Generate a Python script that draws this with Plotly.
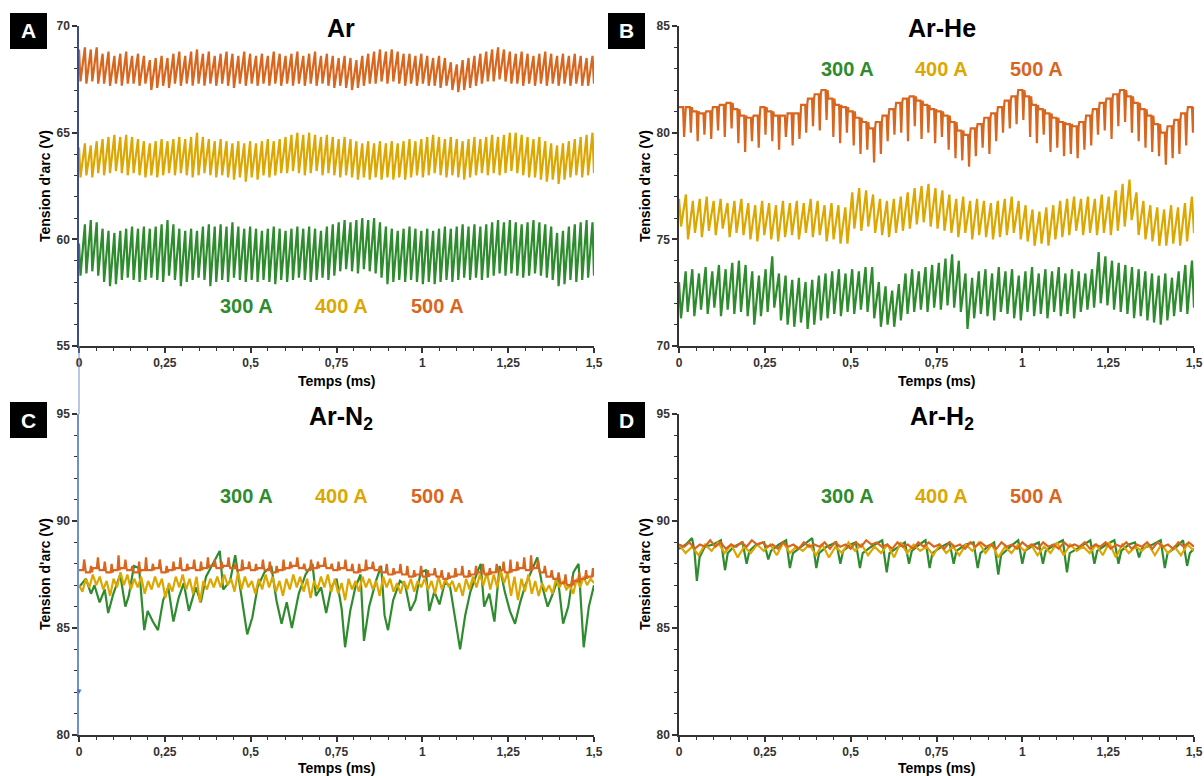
import plotly.graph_objects as go

# ---------------- data ----------------
x_tick_vals = [0, 0.25, 0.5, 0.75, 1, 1.25, 1.5]
x_tick_text = ["0", "0,25", "0,5", "0,75", "1", "1,25", "1,5"]
currents = ["300 A", "400 A", "500 A"]
panel_letters = ["A", "B", "C", "D"]
panel_titles = ["Ar", "Ar-He", "Ar-N<sub>2</sub>", "Ar-H<sub>2</sub>"]
y_ticks_A = [55, 60, 65, 70]
y_ticks_B = [70, 75, 80, 85]
y_ticks_C = [80, 85, 90, 95]
y_ticks_D = [80, 85, 90, 95]

# Panel A (Ar) – per-cycle maxima / minima
ar_500_peaks = [68.9, 69.0, 68.9, 69.0,
    68.7, 68.8, 68.6, 68.7, 68.8, 68.6, 68.7, 68.6,
    68.4, 68.5, 68.6, 68.5,
    68.7, 68.8, 68.6, 68.8, 68.9, 68.7, 68.8, 68.6, 68.7, 68.8, 68.7, 68.6, 68.8, 68.7, 68.6,
    68.7, 68.6, 68.8, 68.7, 68.6, 68.7, 68.8, 68.6, 68.7, 68.8, 68.6, 68.7, 68.6, 68.5, 68.6, 68.5,
    68.4, 68.6, 68.7, 68.8, 68.9, 68.8, 68.9, 68.8, 68.7,
    68.7, 68.6, 68.7, 68.6, 68.5, 68.6, 68.5,
    68.3, 68.2, 68.4, 68.5,
    68.6, 68.7, 68.8, 68.9, 69.0, 68.9, 68.8,
    68.7, 68.8, 68.7, 68.6, 68.7, 68.8, 68.7, 68.6, 68.7, 68.6, 68.7, 68.6, 68.5, 68.6]
ar_500_troughs = [67.4, 67.3, 67.4, 67.3,
    67.3, 67.2, 67.3, 67.2, 67.3, 67.3, 67.2, 67.3,
    67.0, 67.1, 67.2, 67.1,
    67.3, 67.2, 67.3, 67.2, 67.3, 67.2, 67.3, 67.2, 67.3, 67.2, 67.1, 67.3, 67.2, 67.3, 67.2,
    67.3, 67.2, 67.3, 67.2, 67.3, 67.2, 67.3, 67.2, 67.3, 67.2, 67.3, 67.2, 67.1, 67.2, 67.1, 67.0,
    67.1, 67.2, 67.3, 67.3, 67.4, 67.3, 67.4, 67.3, 67.2,
    67.3, 67.2, 67.3, 67.2, 67.2, 67.1, 67.2,
    67.0, 66.9, 67.0, 67.1,
    67.2, 67.3, 67.4, 67.4, 67.5, 67.4, 67.3,
    67.3, 67.2, 67.3, 67.2, 67.3, 67.2, 67.3, 67.2, 67.3, 67.2, 67.3, 67.2, 67.2, 67.3]
ar_400_peaks = [64.3, 64.5, 64.4, 64.6,
    64.7, 64.8, 64.9, 64.8, 64.9, 64.8, 64.7, 64.6,
    64.5, 64.6, 64.7, 64.6, 64.7, 64.8, 64.7, 64.8,
    65.0, 64.8, 64.7, 64.6, 64.7, 64.6, 64.5, 64.6,
    64.5, 64.6, 64.5, 64.6, 64.7, 64.6, 64.7,
    64.8, 64.9, 65.0, 64.9, 65.0, 64.9, 64.8, 64.9, 64.8, 64.7, 64.8, 64.7,
    64.6, 64.5, 64.6, 64.5, 64.6, 64.5, 64.6, 64.5, 64.6, 64.7, 64.6, 64.7,
    64.8, 64.9, 64.8, 64.7, 64.8, 64.7, 64.6,
    64.7, 64.8, 64.7, 64.8, 64.9, 64.8, 64.9, 65.0, 65.0, 64.9, 64.8,
    64.7, 64.8, 64.6, 64.5, 64.4, 64.5, 64.6, 64.7, 64.8, 64.9, 65.0]
ar_400_troughs = [62.9, 63.0, 62.9, 63.1,
    63.0, 63.1, 63.2, 63.1, 63.0, 63.1, 63.0, 62.9,
    63.0, 62.9, 63.0, 63.1, 63.0, 63.1, 63.0, 62.9,
    63.0, 63.1, 63.0, 62.9, 63.0, 62.9, 62.8, 62.9,
    62.7, 62.9, 62.8, 63.0, 62.9, 63.0, 63.1,
    63.1, 63.2, 63.1, 63.0, 63.1, 63.2, 63.0, 63.1, 63.0, 62.9, 63.0, 62.9,
    62.8, 62.9, 62.8, 62.9, 62.8, 62.9, 62.8, 62.9, 62.8, 62.9, 63.0, 62.9,
    63.0, 63.1, 63.0, 62.9, 63.0, 62.9, 62.8,
    62.9, 63.0, 63.1, 63.0, 63.1, 63.0, 63.1, 63.2, 63.1, 63.0, 62.9,
    62.9, 62.8, 62.7, 62.8, 62.6, 62.8, 62.9, 63.0, 62.9, 63.0, 63.1]
ar_300_peaks = [59.8, 60.7, 60.9, 60.8,
    60.5, 60.4, 60.3,
    60.4, 60.5, 60.6, 60.5, 60.6, 60.5, 60.6, 60.7,
    60.9, 60.7, 60.5,
    60.4, 60.5, 60.4, 60.6, 60.7, 60.6, 60.7, 60.6, 60.8,
    60.6, 60.5, 60.6, 60.5, 60.4, 60.5, 60.6, 60.5, 60.4, 60.5, 60.6,
    60.5, 60.6, 60.5, 60.4, 60.6, 60.7,
    60.8, 60.9, 60.8, 60.9, 61.0, 60.9, 61.0, 60.8,
    60.6, 60.5, 60.4, 60.5, 60.6, 60.5, 60.4, 60.5,
    60.4, 60.5, 60.6, 60.5, 60.6, 60.7, 60.6, 60.7, 60.6, 60.7,
    60.8, 60.9, 60.8, 60.9, 60.8, 60.7, 60.8, 60.9, 60.8, 60.7, 60.6,
    60.3, 60.4, 60.6, 60.7, 60.8, 60.9, 60.8]
ar_300_troughs = [58.3, 58.4, 58.5, 58.3,
    58.0, 57.8, 57.9,
    58.1, 58.2, 58.1, 58.0, 58.1, 58.2, 58.1, 58.0,
    58.3, 58.1, 57.8,
    58.0, 58.1, 58.2, 58.1, 57.8, 58.0, 58.1, 58.0, 58.2,
    58.1, 58.0, 58.1, 58.0, 58.1, 58.0, 57.9, 58.1, 58.0, 58.1, 58.2,
    58.1, 58.0, 58.1, 58.2, 58.1, 58.3,
    58.5, 58.6, 58.5, 58.4, 58.6, 58.5, 58.4, 58.2,
    57.9, 58.0, 58.1, 58.0, 58.1, 58.0, 57.9, 58.0,
    57.9, 58.0, 58.1, 58.0, 58.1, 58.2, 58.1, 58.2, 58.1, 58.2,
    58.3, 58.4, 58.3, 58.4, 58.3, 58.2, 58.3, 58.4, 58.3, 58.2, 58.1,
    57.8, 57.9, 58.1, 58.0, 58.1, 58.2, 58.3]

# Panel B (Ar-He)
arhe_500_base = [81.2, 81.2, 81.0, 80.9, 81.0, 81.2, 81.3,
    81.4, 81.1,
    80.8, 80.7, 80.8,
    81.2, 81.0,
    80.8, 80.8, 80.9, 80.9,
    81.3, 81.6, 81.8,
    82.0,
    81.6, 81.3, 81.2, 81.0, 80.7, 80.5,
    80.2,
    80.5, 80.8, 81.1,
    81.4, 81.6, 81.7, 81.5,
    81.3, 81.1, 81.0, 80.8, 80.5, 80.1,
    79.9,
    80.2, 80.4, 80.7, 80.9, 81.2, 81.5, 81.7,
    82.0,
    81.7, 81.3, 81.1, 80.9, 80.7,
    80.5, 80.4, 80.3, 80.5,
    80.8, 81.1, 81.4, 81.6, 81.8, 82.0,
    81.7, 81.4, 81.1, 80.8, 80.4,
    80.0,
    80.3, 80.6, 80.9, 81.2]
arhe_500_spikes = [79.8, 80.0, 79.6, 79.9, 79.7, 80.1, 79.8,
    80.2, 79.5,
    79.1, 79.6, 79.3,
    79.9, 79.6,
    79.2, 79.8, 79.4, 79.7,
    80.0, 80.3, 80.1,
    80.6,
    79.8, 79.5, 80.0, 79.4, 79.0, 79.2,
    78.6,
    79.0, 79.6, 79.9,
    80.0, 79.6, 80.3, 79.7,
    80.0, 79.5, 79.8, 79.2, 78.8, 78.7,
    78.4,
    78.9, 79.3, 79.0, 79.6, 80.0, 80.2, 80.4,
    80.6,
    79.8, 79.5, 79.9, 79.1, 79.3,
    78.9, 79.0, 78.8, 79.2,
    79.4, 79.9, 80.1, 79.7, 80.3, 80.5,
    80.0, 79.6, 79.3, 79.1, 78.9,
    78.5,
    78.8, 79.0, 79.4, 80.0]
arhe_400_peaks = [76.9, 77.1, 76.8, 76.9, 77.0, 76.8, 76.9, 76.7,
    76.8, 76.9, 76.7, 76.6, 76.8, 76.7, 76.6, 76.8,
    76.7, 76.8, 76.7, 76.9, 76.8, 76.6, 76.7, 76.6, 76.5,
    77.2, 77.4, 77.3, 77.1, 76.9,
    76.8, 76.9, 77.0, 77.2, 77.4, 77.5,
    77.6, 77.4, 77.3,
    77.1, 76.9, 77.0, 76.8, 76.9, 76.8, 76.7,
    76.8, 76.9, 77.0, 76.8, 76.6,
    76.4, 76.3, 76.5, 76.6, 76.8,
    76.9, 77.0, 76.9, 77.0, 76.9,
    77.1, 77.0, 77.3, 77.6,
    77.8,
    77.2, 76.8, 76.6, 76.5,
    76.4, 76.6, 76.5, 76.7, 77.0]
arhe_400_troughs = [75.6, 75.0, 75.3, 75.1, 75.4, 75.2, 75.5, 75.1,
    75.3, 75.2, 75.0, 74.9, 75.2, 75.0, 74.9, 75.1,
    75.2, 75.0, 75.3, 75.1, 75.2, 74.9, 75.0, 74.8, 74.8,
    75.5, 75.4, 75.6, 75.3, 75.2,
    75.1, 75.3, 75.4, 75.5, 75.7, 75.8,
    75.6, 75.5, 75.4,
    75.3, 75.1, 75.3, 75.0, 75.2, 75.1, 75.0,
    75.1, 75.2, 75.3, 75.0, 74.9,
    74.7, 74.8, 74.7, 75.0, 75.1,
    75.2, 75.4, 75.2, 75.3, 75.2,
    75.3, 75.2, 75.4, 75.6,
    75.9,
    75.2, 75.0, 74.9, 74.7,
    74.7, 74.8, 74.7, 74.9, 75.3]
arhe_300_peaks = [73.0, 73.5, 73.6, 73.4, 73.7, 73.5, 73.8, 73.6, 73.9, 74.0, 73.8,
    73.5,
    73.3, 73.6,
    74.2,
    73.4, 73.3, 73.1, 73.2, 73.0, 73.1, 73.3, 73.4,
    73.5, 73.6, 73.4, 73.6, 73.5, 73.7, 73.7,
    73.0, 72.8, 72.6, 72.9,
    73.4, 73.6, 73.5, 73.7, 73.8, 73.9, 74.1, 74.3, 74.0,
    73.4,
    73.2, 73.5, 73.6, 73.4, 73.7, 73.5, 73.6, 73.3, 73.5, 73.7, 73.4, 73.6, 73.5, 73.7, 73.4, 73.6, 73.5, 73.4, 73.6,
    74.4,
    74.2, 74.0, 73.9, 73.8, 73.7, 73.6, 73.5, 73.4, 73.3, 73.4,
    73.2, 73.5, 73.8, 74.0]
arhe_300_troughs = [71.3, 71.6, 71.4, 71.7, 71.5, 71.8, 71.4, 71.7, 71.5, 71.6, 71.4,
    71.0,
    71.4, 71.6,
    71.8,
    71.2, 71.0, 70.9, 71.1, 70.8, 71.0, 71.2, 71.3,
    71.5, 71.4, 71.6, 71.5, 71.7, 71.6, 71.3,
    70.9, 71.0, 70.9, 71.2,
    71.5, 71.6, 71.7, 71.6, 71.8, 71.7, 71.9, 71.8, 71.6,
    70.8,
    71.3, 71.5, 71.4, 71.2, 71.6, 71.5, 71.3, 71.2, 71.6, 71.4, 71.5, 71.3, 71.6, 71.4, 71.5, 71.3, 71.6, 71.7, 71.8,
    72.0,
    71.9, 71.7, 71.6, 71.5, 71.3, 71.4, 71.2, 71.1, 71.0, 71.2,
    71.4, 71.6, 71.5, 71.8]

# Panel C (Ar-N2)
arn2_500_base = [87.7, 87.6, 87.8, 87.7, 87.6, 87.7, 87.8, 87.7, 87.6, 87.7,
    87.7, 87.8, 87.6, 87.7, 87.8, 87.7, 87.8, 87.7, 87.8, 87.9,
    87.8, 87.9, 87.8, 87.7, 87.8, 87.7, 87.8, 87.7, 87.6, 87.7,
    87.8, 87.9, 87.8, 87.7, 87.8, 87.9, 87.8, 87.7, 87.8, 87.7,
    87.6, 87.7, 87.8, 87.7, 87.6, 87.5, 87.6, 87.5, 87.4, 87.5,
    87.4, 87.5, 87.4, 87.3, 87.4, 87.5, 87.4, 87.5, 87.6, 87.5,
    87.6, 87.7, 87.6, 87.7, 87.8, 87.7, 87.8, 87.6, 87.4, 87.3,
    87.1, 87.0, 87.2, 87.3, 87.4]
arn2_500_spikes = [88.2, 87.9, 88.3, 88.1, 88.0, 88.4, 88.2, 87.9, 88.1, 88.3,
    88.0, 88.2, 87.9, 88.1, 88.3, 88.0, 88.2, 88.1, 88.3, 88.2,
    88.1, 88.3, 88.0, 88.2, 88.1, 88.0, 88.2, 88.1, 87.9, 88.2,
    88.1, 88.3, 88.0, 88.2, 88.1, 88.3, 88.0, 88.1, 88.2, 88.0,
    88.0, 88.2, 88.1, 87.9, 88.0, 87.8, 88.0, 87.9, 87.7, 87.9,
    87.7, 87.8, 87.7, 87.6, 87.8, 87.9, 87.7, 87.9, 88.0, 87.8,
    88.0, 88.1, 88.2, 88.1, 88.3, 88.4, 88.2, 87.9, 87.7, 87.6,
    87.5, 87.4, 87.6, 87.7, 87.8]
arn2_400_peaks = [87.0, 87.3, 87.5, 87.4, 87.2, 87.3, 87.6, 87.5, 87.3, 87.4,
    87.2, 87.4, 87.3, 87.1, 87.4, 87.5, 87.3, 87.4, 87.2, 87.3,
    87.4, 87.5, 87.3, 87.6, 87.4, 87.2, 87.3, 87.5, 87.4, 87.2,
    87.3, 87.5, 87.4, 87.3, 87.2, 87.4, 87.5, 87.3, 87.1, 87.3,
    87.2, 87.4, 87.3, 87.2, 87.4, 87.3, 87.1, 87.2, 87.3, 87.2,
    87.3, 87.2, 87.4, 87.3, 87.2, 87.1, 87.3, 87.4, 87.5, 87.6,
    87.5, 87.7, 87.6, 87.4, 87.3, 87.5, 87.2, 87.1, 87.0, 87.3,
    87.2, 87.0, 87.3, 87.4, 87.3]
arn2_400_troughs = [86.7, 86.9, 87.0, 86.8, 86.5, 86.9, 87.0, 86.8, 86.9, 86.6,
    86.8, 86.9, 86.4, 86.7, 86.9, 86.8, 86.6, 86.2, 86.8, 86.9,
    86.9, 87.0, 86.7, 86.8, 86.9, 86.6, 86.8, 86.9, 86.7, 86.5,
    86.8, 86.9, 86.7, 86.4, 86.8, 86.9, 86.7, 86.6, 86.3, 86.8,
    86.7, 86.9, 86.8, 86.5, 86.9, 86.7, 86.6, 86.8, 86.7, 86.9,
    86.8, 86.6, 86.8, 86.9, 86.7, 86.5, 86.8, 86.9, 87.0, 86.8,
    86.9, 87.1, 86.5, 86.3, 86.7, 86.6, 86.5, 86.7, 86.6, 86.9,
    86.8, 86.6, 86.9, 87.0, 87.1]
arn2_300_t = [0.00, 0.02, 0.035, 0.045, 0.06, 0.075, 0.085, 0.10, 0.12, 0.135,
    0.145, 0.16, 0.175, 0.19, 0.20, 0.215, 0.23, 0.245, 0.26, 0.275,
    0.29, 0.305, 0.32, 0.34, 0.355, 0.37, 0.39, 0.41, 0.42, 0.44,
    0.455, 0.47, 0.49, 0.505, 0.52, 0.54, 0.56, 0.575, 0.59, 0.605,
    0.62, 0.64, 0.66, 0.68, 0.69, 0.705, 0.72, 0.735, 0.75, 0.765,
    0.775, 0.79, 0.805, 0.82, 0.83, 0.845, 0.865, 0.88, 0.89, 0.90,
    0.915, 0.935, 0.95, 0.965, 0.98, 0.995, 1.01, 1.02, 1.035, 1.05,
    1.065, 1.08, 1.095, 1.11, 1.125, 1.14, 1.16, 1.17, 1.18, 1.195,
    1.21, 1.225, 1.24, 1.255, 1.27, 1.285, 1.30, 1.32, 1.335, 1.35,
    1.365, 1.38, 1.395, 1.41, 1.425, 1.44, 1.455, 1.47, 1.485, 1.50]
arn2_300_v = [86.9, 87.3, 86.6, 87.0, 86.2, 86.8, 85.7, 86.6, 87.5, 86.0,
    86.5, 87.9, 87.8, 84.9, 85.8, 85.3, 84.9, 86.3, 86.9, 85.3,
    86.4, 87.1, 85.8, 86.9, 86.2, 87.4, 88.0, 88.6, 86.8, 87.2,
    88.4, 86.9, 84.7, 85.5, 86.9, 87.6, 87.9, 86.3, 85.2, 86.2,
    85.0, 86.6, 87.5, 88.0, 86.5, 86.9, 85.7, 86.9, 87.3, 85.9,
    84.1, 85.8, 86.9, 87.5, 84.4, 86.0, 87.2, 87.9, 85.6, 84.9,
    86.3, 87.2, 87.0, 85.8, 86.3, 87.6, 87.7, 85.8, 86.7, 86.1,
    87.1, 87.0, 85.4, 84.0, 85.6, 86.7, 87.6, 88.0, 86.0, 86.6,
    85.3, 87.9, 86.7, 85.8, 85.2, 86.2, 87.0, 87.7, 88.3, 86.9,
    86.0, 86.6, 87.3, 85.2, 86.0, 87.6, 88.0, 84.1, 86.0, 87.0]

# Panel D (Ar-H2)
arh2_500_peaks = [88.9, 89.0, 88.9, 89.1, 89.0, 88.9, 89.0, 89.1, 89.0, 88.9,
    89.0, 88.9, 89.0, 88.9, 89.0, 89.0, 88.9, 89.0, 89.1, 89.0,
    88.9, 89.0, 88.9, 89.0, 89.0, 88.9, 89.0, 88.9, 89.0, 89.0,
    88.9, 89.0, 88.9, 89.0, 88.9, 89.0, 88.9, 89.0, 88.9, 89.0,
    88.9, 89.0, 88.9, 89.0, 88.9, 89.0, 89.0, 88.9, 89.0, 89.0]
arh2_500_troughs = [88.8, 88.7, 88.8, 88.8, 88.7, 88.8, 88.8, 88.9, 88.8, 88.7,
    88.8, 88.7, 88.8, 88.8, 88.7, 88.8, 88.7, 88.8, 88.9, 88.8,
    88.7, 88.8, 88.7, 88.8, 88.8, 88.7, 88.8, 88.7, 88.8, 88.8,
    88.7, 88.8, 88.7, 88.8, 88.7, 88.8, 88.7, 88.8, 88.8, 88.7,
    88.8, 88.7, 88.8, 88.7, 88.8, 88.7, 88.8, 88.7, 88.8, 88.8]
arh2_400_peaks = [88.9, 88.8, 88.9, 89.0, 88.9, 88.8, 88.9, 88.9, 89.0, 88.8,
    88.9, 88.9, 88.8, 89.0, 88.9, 88.8, 88.9, 89.0, 88.9, 88.8,
    88.9, 88.8, 88.9, 89.0, 88.9, 88.8, 88.9, 88.9, 88.8, 89.0,
    88.9, 88.8, 88.9, 89.0, 88.9, 88.8, 88.9, 88.9, 88.8, 88.9]
arh2_400_troughs = [88.5, 88.4, 88.6, 88.5, 88.3, 88.5, 88.6, 88.4, 88.5, 88.6,
    88.4, 88.3, 88.5, 88.6, 88.4, 88.5, 88.3, 88.5, 88.6, 88.4,
    88.5, 88.4, 88.6, 88.5, 88.3, 88.5, 88.6, 88.4, 88.5, 88.4,
    88.6, 88.5, 88.4, 88.3, 88.5, 88.6, 88.4, 88.5, 88.4, 88.6]
arh2_300_t = [0.0, 0.02, 0.038, 0.045, 0.052, 0.06, 0.075, 0.10, 0.122, 0.134,
    0.142, 0.16, 0.185, 0.197, 0.205, 0.225, 0.248, 0.26, 0.268, 0.29,
    0.312, 0.323, 0.332, 0.355, 0.388, 0.40, 0.408, 0.43, 0.458, 0.47,
    0.478, 0.50, 0.515, 0.527, 0.535, 0.56, 0.592, 0.605, 0.613, 0.64,
    0.658, 0.67, 0.678, 0.70, 0.718, 0.73, 0.738, 0.765, 0.788, 0.80,
    0.808, 0.835, 0.858, 0.87, 0.878, 0.90, 0.918, 0.93, 0.938, 0.965,
    0.988, 1.0, 1.008, 1.035, 1.048, 1.06, 1.068, 1.095, 1.118, 1.13,
    1.138, 1.17, 1.198, 1.21, 1.218, 1.245, 1.268, 1.28, 1.288, 1.31,
    1.328, 1.34, 1.348, 1.38, 1.403, 1.415, 1.423, 1.45, 1.468, 1.48,
    1.488, 1.50]
arh2_300_v = [88.7, 88.9, 89.2, 88.6, 87.2, 88.3, 88.8, 88.9, 89.1, 87.7,
    88.5, 88.8, 89.0, 88.0, 88.6, 88.9, 89.0, 88.2, 88.6, 88.9,
    89.1, 87.8, 88.5, 88.8, 89.2, 87.8, 88.5, 88.8, 89.0, 88.0,
    88.6, 88.9, 89.0, 87.8, 88.5, 88.8, 89.1, 87.6, 88.5, 88.8,
    89.0, 88.0, 88.6, 88.9, 89.1, 87.8, 88.5, 88.8, 89.0, 88.0,
    88.6, 88.9, 89.0, 87.8, 88.5, 88.8, 89.0, 87.5, 88.4, 88.8,
    89.1, 88.0, 88.6, 88.9, 89.0, 88.0, 88.6, 88.9, 89.1, 87.6,
    88.5, 88.8, 89.1, 88.0, 88.6, 88.9, 89.1, 88.0, 88.6, 88.9,
    89.0, 88.3, 88.7, 88.9, 89.1, 87.8, 88.5, 88.8, 89.1, 87.9,
    88.5, 88.7]

# ---------------- styling ----------------
GREEN = "#2e8b2e"
YELLOW = "#dca700"
ORANGE = "#d8661f"
AXIS = "#333333"
FONT = "Liberation Sans, Arial, sans-serif"
W, H = 1204, 776


def px(x):
    return x / W


def py(y):
    return 1 - y / H


def saw(peaks, troughs, f=0.25, t_end=1.5):
    n = min(len(peaks), len(troughs))
    T = t_end / (n - 1 + f)
    xs, ys = [], []
    for k in range(n):
        xs += [k * T, k * T + f * T]
        ys += [peaks[k], troughs[k]]
    return xs, ys


def spiky(base, spikes, t_end=1.5):
    n = min(len(base), len(spikes))
    T = t_end / (n - 0.1)
    xs, ys = [], []
    for k in range(n):
        xs += [k * T, k * T + 0.6 * T, k * T + 0.75 * T, k * T + 0.9 * T]
        ys += [base[k], base[k], spikes[k], base[k]]
    return xs, ys


fig = go.Figure()


def add(xs, ys, color, ax, width=2.2):
    fig.add_trace(go.Scatter(x=xs, y=ys, mode="lines",
                             line=dict(color=color, width=width),
                             xaxis="x" + ax, yaxis="y" + ax,
                             showlegend=False, hoverinfo="skip"))


# Panel A
add(*saw(ar_300_peaks, ar_300_troughs, 0.25), GREEN, "")
add(*saw(ar_400_peaks, ar_400_troughs, 0.25), YELLOW, "")
add(*saw(ar_500_peaks, ar_500_troughs, 0.25), ORANGE, "")
# Panel B
add(*saw(arhe_300_peaks, arhe_300_troughs, 0.3), GREEN, "2")
add(*saw(arhe_400_peaks, arhe_400_troughs, 0.3), YELLOW, "2")
add(*spiky(arhe_500_base, arhe_500_spikes), ORANGE, "2")
# Panel C
add(arn2_300_t, arn2_300_v, GREEN, "3")
add(*saw(arn2_400_peaks, arn2_400_troughs, 0.5), YELLOW, "3")
add(*spiky(arn2_500_base, arn2_500_spikes), ORANGE, "3")
# Panel D
add(arh2_300_t, arh2_300_v, GREEN, "4")
add(*saw(arh2_400_peaks, arh2_400_troughs, 0.5), YELLOW, "4")
add(*saw(arh2_500_peaks, arh2_500_troughs, 0.5), ORANGE, "4")

tickfont = dict(family=FONT, size=12, color=AXIS, weight="bold")


def xaxis(domain, anchor):
    return dict(domain=domain, anchor=anchor, range=[0, 1.5], automargin=False,
                showline=True, linecolor=AXIS, linewidth=1.5,
                showgrid=False, zeroline=False,
                tickmode="array", tickvals=x_tick_vals, ticktext=x_tick_text,
                ticks="outside", ticklen=5, tickwidth=1.5, tickcolor=AXIS,
                minor=dict(ticks="outside", ticklen=3, tickwidth=1, tickcolor=AXIS,
                           dtick=0.05, tick0=0, showgrid=False),
                tickfont=tickfont, fixedrange=True)


def yaxis(domain, anchor, ticks, linecolor=AXIS):
    return dict(domain=domain, anchor=anchor, range=[ticks[0], ticks[-1]], automargin=False,
                showline=True, linecolor=linecolor, linewidth=1.5,
                showgrid=False, zeroline=False,
                tickmode="array", tickvals=ticks, ticktext=[str(t) for t in ticks],
                ticks="outside", ticklen=5, tickwidth=1.5, tickcolor=AXIS,
                minor=dict(ticks="outside", ticklen=3, tickwidth=1, tickcolor=AXIS,
                           dtick=1, tick0=ticks[0], showgrid=False),
                tickfont=tickfont, fixedrange=True)


xd_left = [px(79), px(594)]
xd_right = [px(679), px(1194)]
yd_top = [py(346), py(26)]
yd_bot = [py(735), py(414)]

fig.update_layout(
    width=W, height=H,
    margin=dict(l=0, r=0, t=0, b=0, pad=0, autoexpand=False),
    paper_bgcolor="white", plot_bgcolor="white",
    showlegend=False,
    xaxis=xaxis(xd_left, "y"),
    yaxis=yaxis(yd_top, "x", y_ticks_A, linecolor="#3a4c8c"),
    xaxis2=xaxis(xd_right, "y2"),
    yaxis2=yaxis(yd_top, "x2", y_ticks_B),
    xaxis3=xaxis(xd_left, "y3"),
    yaxis3=yaxis(yd_bot, "x3", y_ticks_C, linecolor="#6f8fcf"),
    xaxis4=xaxis(xd_right, "y4"),
    yaxis4=yaxis(yd_bot, "x4", y_ticks_D),
)

annotations = []
shapes = []
# thin blue artefact line joining panel A and C y-axes
shapes.append(dict(type="line", xref="paper", yref="paper",
                   x0=px(79), x1=px(79), y0=py(346), y1=py(414),
                   line=dict(color="#6f8fcf", width=1)))
annotations.append(dict(xref="paper", yref="paper", x=px(79), y=py(690),
                        text="▼", showarrow=False, font=dict(size=8, color="#4a72c4"),
                        xanchor="center", yanchor="middle"))

letter_pos = [(10, 13), (608, 13), (10, 402), (608, 402)]
title_pos = [(341, 28), (942, 28), (341, 418), (942, 418)]
label_y = [306, 69, 496, 496]
label_x = [[246, 341, 437], [847, 941, 1036], [246, 341, 437], [847, 941, 1036]]
ytitle_pos = [(45, 186), (645, 186), (45, 574), (645, 574)]
xtitle_pos = [(337, 381), (937, 381), (337, 768), (937, 768)]
colors = [GREEN, YELLOW, ORANGE]

for i in range(4):
    lx, ly = letter_pos[i]
    shapes.append(dict(type="rect", xref="paper", yref="paper",
                       x0=px(lx), x1=px(lx + 37), y0=py(ly + 36), y1=py(ly),
                       fillcolor="black", line=dict(width=0)))
    annotations.append(dict(xref="paper", yref="paper", x=px(lx + 18.5), y=py(ly + 18),
                            text=panel_letters[i], showarrow=False,
                            font=dict(family=FONT, size=21, color="white", weight="bold"),
                            xanchor="center", yanchor="middle"))
    tx, ty = title_pos[i]
    annotations.append(dict(xref="paper", yref="paper", x=px(tx), y=py(ty),
                            text=panel_titles[i], showarrow=False,
                            font=dict(family=FONT, size=25, color="black", weight="bold"),
                            xanchor="center", yanchor="middle"))
    for j in range(3):
        annotations.append(dict(xref="paper", yref="paper", x=px(label_x[i][j]), y=py(label_y[i]),
                                text=currents[j], showarrow=False,
                                font=dict(family=FONT, size=20, color=colors[j], weight="bold"),
                                xanchor="center", yanchor="middle"))
    yx, yy = ytitle_pos[i]
    annotations.append(dict(xref="paper", yref="paper", x=px(yx), y=py(yy),
                            text="Tension d'arc (V)", showarrow=False, textangle=-90,
                            font=dict(family=FONT, size=14, color="black", weight="bold"),
                            xanchor="center", yanchor="middle"))
    xx, xy = xtitle_pos[i]
    annotations.append(dict(xref="paper", yref="paper", x=px(xx), y=py(xy),
                            text="Temps (ms)", showarrow=False,
                            font=dict(family=FONT, size=14, color="black", weight="bold"),
                            xanchor="center", yanchor="middle"))

fig.update_layout(annotations=annotations, shapes=shapes)
post = ("document.body.style.margin='0';"
        "document.documentElement.style.overflow='hidden';")
fig.write_html("out.html", config={"displayModeBar": False}, post_script=post)
